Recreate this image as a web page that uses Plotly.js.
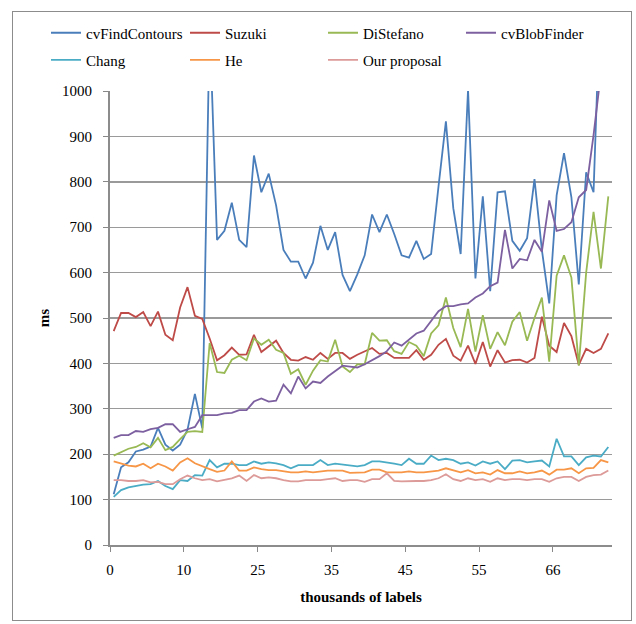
<!DOCTYPE html>
<html>
<head>
<meta charset="utf-8">
<script src="https://cdn.plot.ly/plotly-3.0.1.min.js"></script>
<style>
  body { margin: 0; background: #ffffff; }
  #chart { width: 636px; height: 624px; }
  #frame { position: absolute; left: 12px; top: 11px; width: 618px; height: 608px;
           border: 1px solid #8c8c8c; pointer-events: none; }
</style>
</head>
<body>
<div id="chart"></div>
<div id="frame"></div>
<script>
// Category tick labels (thousands of labels), one every ten categories
const tickLabels = ['0', '10', '25', '35', '45', '55', '66'];

const seriesNames = ['cvFindContours', 'Suzuki', 'DiStefano', 'cvBlobFinder', 'Chang', 'He', 'Our proposal'];
const seriesColors = ['#4a7ebb', '#be4b48', '#98b954', '#7d60a0', '#4bacc6', '#f79646', '#dc9a98'];

// Execution time in ms for each run
const cvFindContours = [112, 171, 182, 206, 210, 217, 258, 221, 208, 221, 254, 333, 257, 1150, 672, 692, 754, 672, 656, 858,
  777, 818, 748, 650, 624, 624, 587, 622, 703, 650, 689, 595, 559, 596, 638, 728, 689, 728, 685, 638,
  633, 670, 630, 641, 790, 933, 742, 641, 1003, 587, 768, 559, 777, 779, 670, 648, 676, 806, 650, 532,
  770, 863, 766, 574, 821, 777, 1250, 1300];
const suzuki = [471, 511, 511, 502, 513, 482, 514, 463, 451, 523, 568, 505, 498, 455, 407, 418, 435, 419, 420, 463,
  425, 438, 450, 423, 408, 406, 414, 408, 423, 410, 423, 423, 410, 419, 427, 434, 421, 423, 412, 412,
  412, 429, 408, 419, 441, 454, 417, 406, 439, 399, 447, 393, 429, 402, 407, 408, 402, 412, 503, 439,
  425, 489, 460, 397, 432, 423, 432, 466];
const diStefano = [197, 205, 212, 216, 224, 215, 236, 209, 216, 233, 249, 251, 249, 445, 381, 379, 408, 417, 407, 455,
  441, 452, 430, 423, 377, 387, 353, 384, 407, 404, 452, 393, 381, 398, 398, 467, 450, 451, 427, 421,
  447, 439, 416, 466, 484, 545, 478, 436, 520, 426, 506, 432, 469, 440, 492, 513, 450, 500, 545, 404,
  593, 638, 589, 395, 600, 734, 609, 768];
const cvBlobFinder = [236, 242, 242, 251, 249, 255, 258, 266, 266, 249, 255, 260, 286, 286, 286, 290, 291, 297, 297, 316,
  323, 316, 318, 353, 334, 371, 345, 360, 357, 371, 382, 395, 393, 391, 398, 407, 416, 427, 446, 439,
  452, 466, 472, 493, 515, 526, 526, 530, 532, 545, 554, 570, 578, 694, 609, 630, 627, 672, 646, 759,
  692, 696, 711, 766, 782, 903, 1040, 1080];
const chang = [106, 121, 127, 130, 133, 134, 141, 130, 123, 143, 141, 154, 153, 187, 171, 179, 179, 176, 176, 184,
  179, 182, 180, 176, 169, 176, 176, 176, 187, 176, 179, 177, 175, 173, 176, 184, 184, 182, 179, 176,
  190, 179, 179, 197, 187, 190, 187, 179, 182, 175, 184, 179, 184, 167, 186, 187, 182, 184, 186, 173,
  234, 195, 195, 176, 193, 197, 195, 216];
const he = [184, 179, 175, 173, 179, 169, 179, 173, 164, 182, 191, 180, 173, 167, 161, 164, 184, 164, 164, 171,
  167, 165, 165, 162, 160, 160, 162, 160, 162, 164, 164, 164, 159, 159, 160, 166, 166, 160, 160, 160,
  162, 160, 160, 162, 164, 169, 164, 160, 165, 158, 160, 155, 165, 158, 158, 162, 158, 160, 164, 155,
  166, 166, 169, 158, 169, 170, 187, 182];
const ourProposal = [143, 143, 141, 141, 143, 138, 139, 134, 134, 145, 153, 147, 143, 145, 140, 143, 147, 153, 141, 154,
  147, 149, 147, 143, 140, 140, 143, 143, 143, 145, 147, 141, 143, 143, 139, 145, 145, 158, 141, 140,
  141, 141, 141, 143, 147, 156, 145, 141, 147, 143, 145, 139, 147, 143, 145, 145, 143, 145, 145, 139,
  147, 150, 150, 141, 150, 154, 155, 164];

const allSeries = [cvFindContours, suzuki, diStefano, cvBlobFinder, chang, he, ourProposal];
const xIndex = cvFindContours.map((_, i) => i);

const serif = 'Liberation Serif, Times New Roman, serif';

// Legend grid: four entries per row, each entry gets its own legend box
const legendCols = [-0.1275, 0.1494, 0.4243, 0.6992];
const legendRows = [1.1277, 1.0682];
const legendKey = k => (k === 0 ? 'legend' : 'legend' + (k + 1));

const traces = allSeries.map((vals, k) => ({
  type: 'scatter',
  mode: 'lines',
  name: seriesNames[k],
  legend: legendKey(k),
  x: xIndex,
  y: vals,
  line: { color: seriesColors[k], width: 1.8 },
  hoverinfo: 'skip'
}));

const layout = {
  width: 636,
  height: 624,
  margin: { l: 110, r: 24, t: 91, b: 79 },
  paper_bgcolor: '#ffffff',
  plot_bgcolor: '#ffffff',
  font: { family: serif, size: 15, color: '#000000' },
  showlegend: true,
  xaxis: {
    range: [-0.5, xIndex.length - 0.5],
    tickmode: 'array',
    tickvals: tickLabels.map((_, k) => k * 10 - 0.5),
    ticktext: tickLabels,
    ticks: 'outside',
    ticklen: 5,
    tickwidth: 1,
    tickcolor: '#888888',
    ticklabelstandoff: 5,
    showgrid: false,
    zeroline: false,
    showline: true,
    linecolor: '#8c8c8c',
    linewidth: 2,
    tickfont: { family: serif, size: 15 },
    title: { text: '<b>thousands of labels</b>', font: { family: serif, size: 15 }, standoff: 14 }
  },
  yaxis: {
    range: [0, 1000],
    dtick: 100,
    tick0: 0,
    ticks: 'outside',
    ticklen: 5,
    tickwidth: 1,
    tickcolor: '#888888',
    ticklabelstandoff: 8,
    showgrid: true,
    gridcolor: '#9a9a9a',
    gridwidth: 1.4,
    zeroline: false,
    showline: true,
    linecolor: '#8c8c8c',
    linewidth: 2,
    tickfont: { family: serif, size: 15 },
    title: { text: '<b>ms</b>', font: { family: serif, size: 15 }, standoff: 9 }
  }
};

seriesNames.forEach((_, k) => {
  layout[legendKey(k)] = {
    x: legendCols[k % 4], xanchor: 'left',
    y: legendRows[Math.floor(k / 4)], yanchor: 'middle',
    font: { family: serif, size: 15, color: '#000000' },
    bgcolor: 'rgba(0,0,0,0)',
    borderwidth: 0
  };
});

Plotly.newPlot('chart', traces, layout, { staticPlot: true, displayModeBar: false });
</script>
</body>
</html>
